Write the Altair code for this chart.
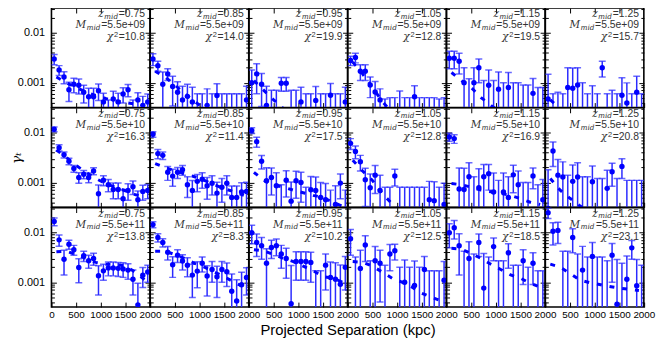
import altair as alt
import pandas as pd

# ---------------- data ----------------
sep_kpc = [55, 155, 255, 355, 455, 555, 655, 755, 855, 955,
           1055, 1155, 1255, 1355, 1455, 1555, 1655, 1755, 1855, 1955]
model_kpc = [100, 300, 500, 700, 900, 1100, 1300, 1500, 1700, 1900]

z_mid = ["0.75", "0.85", "0.95", "1.05", "1.15", "1.25"]
m_mid = ["5.5e+09", "5.5e+10", "5.5e+11"]
chi2 = [["10.8", "14.0", "19.9", "12.8", "19.5", "15.7"],
        ["16.3", "11.4", "17.5", "12.8", "16.9", "20.8"],
        ["13.8", "8.3", "10.2", "12.5", "18.5", "23.1"]]

# measured tangential shear, one list per redshift bin (mass bin 5.5e+09)
gamma_m09 = [
    [0.0030, 0.0018, 0.0013, 0.00072, 0.00093, 0.00089, 0.00064, 0.00052, 0.00052, 0.00069,
     0.00041, 0.00025, 0.00047, 0.00041, 0.00059, 0.00072, 0.00025, 0.00045, 0.00035, 0.00041],
    [0.0030, 0.0022, 0.00093, 0.0015, 0.00084, 0.00064, 0.00045, 0.00053, 0.00041, 0.0002,
     0.0002, 0.00035, 0.0002, 0.00055, 0.0002, 0.0002, 0.0002, 0.0002, 0.0002, 0.00045],
    [0.0010, 0.0015, 0.00093, 0.00035, 0.0002, 0.0002, 0.00097, 0.00097, 0.0002, 0.0002,
     0.00041, 0.0002, 0.0002, 0.00044, 0.0002, 0.0002, 0.00056, 0.0002, 0.0002, 0.00041],
    [0.0028, 0.0032, 0.0017, 0.0017, 0.0009, 0.00065, 0.00045, 0.0002, 0.0002, 0.0002,
     0.0002, 0.0002, 0.0002, 0.00052, 0.0002, 0.0002, 0.0002, 0.0002, 0.0002, 0.0002],
    [0.0031, 0.0031, 0.0027, 0.0010, 0.0002, 0.0010, 0.0020, 0.0002, 0.00089, 0.0002,
     0.00074, 0.0002, 0.0008, 0.0002, 0.0002, 0.0002, 0.0002, 0.00061, 0.0002, 0.0002],
    [0.00047, 0.0002, 0.0002, 0.0002, 0.0008, 0.00077, 0.0009, 0.0002, 0.0002, 0.0002,
     0.0002, 0.0020, 0.0002, 0.0002, 0.0002, 0.00056, 0.00039, 0.0002, 0.00064, 0.0002],
]
err_m09 = [
    [0.0007, 0.0004, 0.00035, 0.0003, 0.0003, 0.0003, 0.00025, 0.00025, 0.00025, 0.00025,
     0.0002, 0.0002, 0.0002, 0.0002, 0.0002, 0.0002, 0.0002, 0.00018, 0.00018, 0.00018],
    [0.0008, 0.0005, 0.0007, 0.0004, 0.0005, 0.0004, 0.0004, 0.0004, 0.0004, 0.0004,
     0.0004, 0.0004, 0.0004, 0.0004, 0.0004, 0.0004, 0.0004, 0.0004, 0.0004, 0.0004],
    [0.0008, 0.0009, 0.0006, 0.0005, 0.0005, 0.0005, 0.0003, 0.0003, 0.0005, 0.0005,
     0.0004, 0.0004, 0.0004, 0.0004, 0.0004, 0.0004, 0.0004, 0.0004, 0.0004, 0.0004],
    [0.0006, 0.0007, 0.0006, 0.0006, 0.0004, 0.0004, 0.0003, 0.00027, 0.0003, 0.0003,
     0.00048, 0.0003, 0.0003, 0.00035, 0.0003, 0.0003, 0.0003, 0.0003, 0.00027, 0.0003],
    [0.0012, 0.0012, 0.0012, 0.0010, 0.0010, 0.0010, 0.0010, 0.0009, 0.0009, 0.0009,
     0.0009, 0.0008, 0.0008, 0.0008, 0.0008, 0.0007, 0.0007, 0.0006, 0.0006, 0.0006],
    [0.0010, 0.0004, 0.00044, 0.0004, 0.0012, 0.0012, 0.0011, 0.0008, 0.0004, 0.00067,
     0.0004, 0.0007, 0.0004, 0.0005, 0.0004, 0.0007, 0.0006, 0.0004, 0.0007, 0.0004],
]
model_m09 = [
    [0.0013, 0.0010, 0.0008, 0.00065, 0.00055, 0.00048, 0.00043, 0.0004, 0.00037, 0.00035],
    [0.0017, 0.0013, 0.0009, 0.0006, 0.00042, 0.0003, 0.00022, 0.00017, 0.00013, 0.0001],
    [0.0011, 0.0007, 0.00045, 0.0003, 0.0002, 0.00015, 0.00012, 0.0001, 0.00008, 0.00007],
    [0.0026, 0.0015, 0.0008, 0.00042, 0.00025, 0.00017, 0.00012, 0.0001, 0.00008, 0.00007],
    [0.0016, 0.0011, 0.0008, 0.0005, 0.00035, 0.00025, 0.00018, 0.00014, 0.00011, 0.0001],
    [0.00045, 0.0003, 0.0002, 0.00015, 0.00012, 0.0001, 0.00008, 0.00007, 0.00006, 0.00005],
]

gamma_m10 = [
    [0.0117, 0.0050, 0.0036, 0.00266, 0.0019, 0.00126, 0.00146, 0.00126, 0.0017, 0.00059,
     0.00111, 0.0009, 0.00072, 0.00072, 0.00047, 0.00069, 0.00082, 0.00045, 0.00066, 0.00069],
    [0.0093, 0.0038, 0.0035, 0.0016, 0.00134, 0.0016, 0.0018, 0.0009, 0.00069, 0.00105,
     0.00116, 0.00086, 0.00096, 0.00061, 0.0008, 0.00096, 0.0005, 0.0005, 0.00064, 0.00066],
    [0.0111, 0.0066, 0.00266, 0.00108, 0.00126, 0.00086, 0.0002, 0.00111, 0.00042, 0.00108,
     0.0010, 0.0002, 0.00071, 0.00069, 0.0005, 0.00045, 0.0002, 0.00036, 0.00097, 0.0002],
    [0.0061, 0.0042, 0.0026, 0.00113, 0.00078, 0.0014, 0.00069, 0.0002, 0.0002, 0.00135,
     0.0002, 0.0002, 0.0002, 0.0002, 0.0002, 0.0002, 0.00045, 0.00043, 0.0002, 0.00036],
    [0.0082, 0.0076, 0.00074, 0.00072, 0.0013, 0.0002, 0.00078, 0.0013, 0.0015, 0.00064,
     0.0002, 0.00064, 0.0005, 0.00142, 0.0009, 0.0002, 0.0002, 0.00135, 0.0002, 0.00045],
    [0.0003, 0.0043, 0.0014, 0.00129, 0.0002, 0.00105, 0.00129, 0.0002, 0.0002, 0.00103,
     0.0002, 0.0002, 0.00076, 0.00164, 0.0002, 0.0021, 0.0002, 0.0002, 0.0002, 0.0002],
]
err_m10 = [
    [0.0013, 0.0007, 0.0005, 0.0004, 0.0003, 0.0003, 0.00028, 0.00028, 0.00028, 0.0003,
     0.00025, 0.00025, 0.00025, 0.00025, 0.00025, 0.00025, 0.00025, 0.00022, 0.00022, 0.00022],
    [0.0012, 0.0008, 0.0006, 0.0005, 0.0005, 0.0004, 0.0004, 0.0004, 0.0004, 0.0004,
     0.0004, 0.0004, 0.0004, 0.0004, 0.0004, 0.0004, 0.00035, 0.00035, 0.00035, 0.00035],
    [0.0015, 0.0015, 0.0008, 0.0009, 0.0007, 0.0007, 0.0007, 0.0006, 0.0006, 0.0006,
     0.0006, 0.0006, 0.0006, 0.0006, 0.0005, 0.0005, 0.0005, 0.0005, 0.0005, 0.0005],
    [0.0015, 0.0012, 0.0009, 0.0008, 0.0007, 0.0008, 0.0007, 0.0006, 0.0006, 0.0005,
     0.0006, 0.0006, 0.0006, 0.0006, 0.0006, 0.0006, 0.0006, 0.0006, 0.0006, 0.0006],
    [0.0015, 0.0015, 0.0012, 0.0012, 0.0012, 0.0011, 0.0011, 0.0010, 0.0008, 0.0009,
     0.0009, 0.0009, 0.0008, 0.0008, 0.0008, 0.0008, 0.0008, 0.0006, 0.0007, 0.0007],
    [0.0015, 0.0022, 0.0015, 0.0013, 0.0012, 0.0012, 0.0012, 0.0011, 0.0011, 0.0011,
     0.0010, 0.0010, 0.0010, 0.0008, 0.0010, 0.0009, 0.0009, 0.0009, 0.0009, 0.0009],
]
model_m10 = [
    [0.0045, 0.0032, 0.0022, 0.0016, 0.0012, 0.00095, 0.0008, 0.00068, 0.00057, 0.0005],
    [0.0024, 0.0020, 0.0017, 0.0015, 0.0013, 0.0011, 0.0009, 0.00075, 0.00065, 0.00055],
    [0.0016, 0.0011, 0.0009, 0.0008, 0.0007, 0.00062, 0.00055, 0.0005, 0.0004, 0.00033],
    [0.0028, 0.0017, 0.0011, 0.0006, 0.00037, 0.00025, 0.00018, 0.00014, 0.00011, 0.0001],
    [0.00095, 0.0009, 0.0008, 0.0007, 0.00065, 0.0006, 0.00055, 0.00047, 0.0004, 0.00036],
    [0.0012, 0.0007, 0.00048, 0.00034, 0.00025, 0.00019, 0.00015, 0.00012, 0.0001, 0.00008],
]

gamma_m11 = [
    [0.0166, 0.0071, 0.0029, 0.0058, 0.0045, 0.00197, 0.0034, 0.0027, 0.0030, 0.00135,
     0.00169, 0.00194, 0.00194, 0.0019, 0.00185, 0.00175, 0.00115, 0.00035, 0.00138, 0.0016],
    [0.0144, 0.0079, 0.0063, 0.0040, 0.00225, 0.0035, 0.00266, 0.00219, 0.00139, 0.00167,
     0.0024, 0.00133, 0.0018, 0.00129, 0.0018, 0.00162, 0.00066, 0.00042, 0.00089, 0.00125],
    [0.0099, 0.0063, 0.0054, 0.0024, 0.0050, 0.0054, 0.0037, 0.0030, 0.00037, 0.0026,
     0.0026, 0.0026, 0.0025, 0.0002, 0.0002, 0.0022, 0.00125, 0.00115, 0.00091, 0.0020],
    [0.0075, 0.0002, 0.00188, 0.0056, 0.0002, 0.0027, 0.0024, 0.0002, 0.0037, 0.0043,
     0.0002, 0.0010, 0.0002, 0.00086, 0.0002, 0.0018, 0.0002, 0.0002, 0.0002, 0.0011],
    [0.0099, 0.0124, 0.0054, 0.0002, 0.0030, 0.0002, 0.0063, 0.00076, 0.0002, 0.0052,
     0.0002, 0.0002, 0.0039, 0.0002, 0.0002, 0.0027, 0.0002, 0.0024, 0.0002, 0.0002],
    [0.0250, 0.0106, 0.0110, 0.0002, 0.0002, 0.0079, 0.0002, 0.00175, 0.0002, 0.0033,
     0.0002, 0.0002, 0.0002, 0.0035, 0.00036, 0.0002, 0.00115, 0.0049, 0.00085, 0.0002],
]
err_m11 = [
    [0.0030, 0.0018, 0.0015, 0.0012, 0.0010, 0.0010, 0.0008, 0.0008, 0.0008, 0.0008,
     0.0006, 0.0006, 0.0006, 0.0006, 0.0006, 0.0006, 0.0006, 0.0006, 0.0006, 0.0006],
    [0.0020, 0.0015, 0.0012, 0.0012, 0.0010, 0.0010, 0.0009, 0.0009, 0.0009, 0.0009,
     0.0008, 0.0008, 0.0008, 0.0008, 0.0008, 0.0008, 0.0008, 0.0007, 0.0007, 0.0007],
    [0.0040, 0.0030, 0.0025, 0.0023, 0.0020, 0.0020, 0.0018, 0.0018, 0.0018, 0.0015,
     0.0015, 0.0015, 0.0015, 0.0015, 0.0015, 0.0015, 0.0013, 0.0013, 0.0013, 0.0013],
    [0.0040, 0.0030, 0.0025, 0.0030, 0.0025, 0.0025, 0.0020, 0.0020, 0.0020, 0.0015,
     0.0018, 0.0018, 0.0018, 0.0018, 0.0018, 0.0015, 0.0015, 0.0015, 0.0015, 0.0015],
    [0.0050, 0.0050, 0.0040, 0.0040, 0.0035, 0.0035, 0.0030, 0.0030, 0.0030, 0.0025,
     0.0025, 0.0025, 0.0020, 0.0020, 0.0020, 0.0018, 0.0018, 0.0015, 0.0015, 0.0015],
    [0.0060, 0.0050, 0.0050, 0.0040, 0.0040, 0.0040, 0.0035, 0.0035, 0.0030, 0.0030,
     0.0030, 0.0030, 0.0025, 0.0025, 0.0025, 0.0022, 0.0022, 0.0020, 0.0020, 0.0020],
]
model_m11 = [
    [0.0041, 0.0042, 0.0036, 0.0030, 0.0025, 0.0023, 0.0023, 0.0021, 0.0016, 0.0011],
    [0.0042, 0.0042, 0.0036, 0.0030, 0.0024, 0.0020, 0.0016, 0.0013, 0.0010, 0.0008],
    [0.0045, 0.0043, 0.0036, 0.0030, 0.0026, 0.0021, 0.0017, 0.0013, 0.0012, 0.0010],
    [0.0026, 0.0025, 0.0021, 0.0016, 0.0012, 0.0010, 0.0008, 0.0006, 0.0005, 0.00042],
    [0.0048, 0.0046, 0.0038, 0.0030, 0.0023, 0.0018, 0.0014, 0.0012, 0.00095, 0.0008],
    [0.0023, 0.0020, 0.0015, 0.0011, 0.00098, 0.0009, 0.00082, 0.00076, 0.00072, 0.00068],
]

gamma_rows = [gamma_m09, gamma_m10, gamma_m11]
err_rows = [err_m09, err_m10, err_m11]
model_rows = [model_m09, model_m10, model_m11]

# ---------------- style ----------------
W, H = 99.7, 100.7
BLUE = "#0000ff"
BAR = "#2b2bff"
TXT = "#333333"
YDOM = [10 ** -3.5, 10 ** -1.5]
y_major = [0.001, 0.01]
y_minor = [0.0004, 0.0005, 0.0006, 0.0007, 0.0008, 0.0009,
           0.002, 0.003, 0.004, 0.005, 0.006, 0.007, 0.008, 0.009, 0.02, 0.03]

SANS_W = {"0": .556, "1": .556, "2": .556, "3": .556, "4": .556, "5": .556, "6": .556,
          "7": .556, "8": .556, "9": .556, ".": .278, "=": .584, "+": .584, "e": .556}


def sans_w(s, size):
    return sum(SANS_W[c] for c in s) * size


xs = alt.Scale(domain=[0, 2000], nice=False, zero=False)
ys = alt.Scale(type="log", domain=YDOM, nice=False)


def ax_common(**kw):
    base = dict(grid=False, domain=False, tickColor="black", tickWidth=1,
                labelColor="black", labelFont="Liberation Sans", labelFlush=False,
                labelOverlap=False)
    base.update(kw)
    return alt.Axis(**base)


one_row = pd.DataFrame({"k": [0]})


def text_piece(s, x, y, font, size, style="normal"):
    return alt.Chart(one_row).mark_text(
        text=s, font=font, fontSize=size, fontStyle=style, align="right",
        baseline="alphabetic", color=TXT
    ).encode(x=alt.value(x), y=alt.value(y))


def panel(r, c):
    g = gamma_rows[r][c]
    e = err_rows[r][c]
    df = pd.DataFrame({
        "sep": sep_kpc,
        "g": g,
        "lo": [max(v - d, 1e-7) for v, d in zip(g, e)],
        "hi": [v + d for v, d in zip(g, e)],
    })
    mdf = pd.DataFrame({"sep": model_kpc, "m": model_rows[r][c]})

    bottom_vals = [0, 500, 1000, 1500, 2000] if c == 0 else [500, 1000, 1500, 2000]
    xtitle = None
    xkw = {}
    if r == 2 and c == 2:
        xtitle = "Projected Separation (kpc)"
        xkw = dict(titleX=W, titleFont="Liberation Sans", titleFontSize=15,
                   titleFontWeight="normal", titleColor="black", titlePadding=3)
    x_bottom = ax_common(orient="bottom", values=bottom_vals, tickSize=5, offset=-5,
                         labels=(r == 2), labelFontSize=10, labelPadding=3, format="d",
                         title=xtitle, **xkw)
    x_top = ax_common(orient="top", values=[500, 1000, 1500], tickSize=5, offset=-5,
                      labels=False, title=None)

    ytitle = None
    ykw = {}
    if c == 0 and r == 1:
        ytitle = "γₜ"
        ykw = dict(titleFont="DejaVu Serif", titleFontSize=14, titleFontStyle="italic",
                   titleFontWeight="normal", titleColor="black", titlePadding=-6)
    y_left = ax_common(orient="left", values=y_major, tickSize=5, offset=-5,
                       labels=(c == 0), labelFontSize=11, labelPadding=7, format="~g",
                       title=ytitle, **ykw)
    y_right = ax_common(orient="right", values=y_major, tickSize=5, offset=-5,
                        labels=False, title=None)
    y_left_min = ax_common(orient="left", values=y_minor, tickSize=3, offset=-3,
                           labels=False, title=None)
    y_right_min = ax_common(orient="right", values=y_minor, tickSize=3, offset=-3,
                            labels=False, title=None)

    bars = alt.Chart(df).mark_rule(color=BAR, strokeWidth=1.5, clip=True).encode(
        x=alt.X("sep:Q", scale=xs, axis=x_bottom),
        y=alt.Y("lo:Q", scale=ys, axis=y_left),
        y2="hi:Q",
    )
    cap_lo = alt.Chart(df).mark_tick(orient="horizontal", size=7, thickness=1.5,
                                     color=BAR, clip=True).encode(
        x=alt.X("sep:Q", scale=xs, axis=x_top),
        y=alt.Y("lo:Q", scale=ys, axis=y_right),
    )
    cap_hi = alt.Chart(df).mark_tick(orient="horizontal", size=7, thickness=1.5,
                                     color=BAR, clip=True).encode(
        x=alt.X("sep:Q", scale=xs, axis=None),
        y=alt.Y("hi:Q", scale=ys, axis=y_left_min),
    )
    model = alt.Chart(mdf).mark_line(color=BLUE, strokeWidth=3, strokeDash=[5, 8],
                                     clip=True).encode(
        x=alt.X("sep:Q", scale=xs, axis=None),
        y=alt.Y("m:Q", scale=ys, axis=y_right_min),
    )
    pts = alt.Chart(df).mark_point(filled=True, shape="circle", size=30, color=BLUE,
                                   opacity=1, clip=True).encode(
        x=alt.X("sep:Q", scale=xs, axis=None),
        y=alt.Y("g:Q", scale=ys, axis=None),
    )

    R = W - 5
    y1, y2, y3 = 9.5, 20.5, 32.5
    fs = 10.5
    w_mid = 14
    gap = 0.6
    zval = "=" + z_mid[c]
    mval = "=" + m_mid[r]
    cval = "=" + chi2[r][c]
    w1 = sans_w(zval, fs) + gap
    w2 = sans_w(mval, fs) + gap
    w3 = sans_w(cval, fs) + gap
    texts = [
        text_piece(zval, R, y1, "Liberation Sans", fs),
        text_piece("mid", R - w1, y1 + 1.2, "DejaVu Serif", 7.5, "italic"),
        text_piece("z", R - w1 - w_mid - gap, y1, "DejaVu Serif", 10.5, "italic"),
        text_piece(mval, R, y2, "Liberation Sans", fs),
        text_piece("mid", R - w2, y2 + 1.5, "DejaVu Serif", 7.5, "italic"),
        text_piece("M", R - w2 - w_mid - gap, y2, "DejaVu Serif", 10.5, "italic"),
        text_piece(cval, R, y3, "Liberation Sans", fs),
        text_piece("2", R - w3, y3 - 3.2, "Liberation Sans", 7.5),
        text_piece("χ", R - w3 - 4.2 - gap, y3, "DejaVu Serif", 11, "italic"),
    ]

    layer = alt.layer(bars, cap_lo, cap_hi, model, pts, *texts).resolve_scale(
        x="shared", y="shared"
    ).resolve_axis(x="independent", y="independent").properties(width=W, height=H)
    return layer


panels = [panel(r, c) for r in range(3) for c in range(6)]

chart = alt.concat(*panels, columns=6, spacing=0, bounds="flush").properties(
    padding={"left": 0, "top": -4, "right": 0, "bottom": 0}
).configure_view(stroke="black", strokeWidth=1.6).configure_axis(grid=False)

chart.save("out.html", embed_options={"renderer": "svg", "actions": False})
